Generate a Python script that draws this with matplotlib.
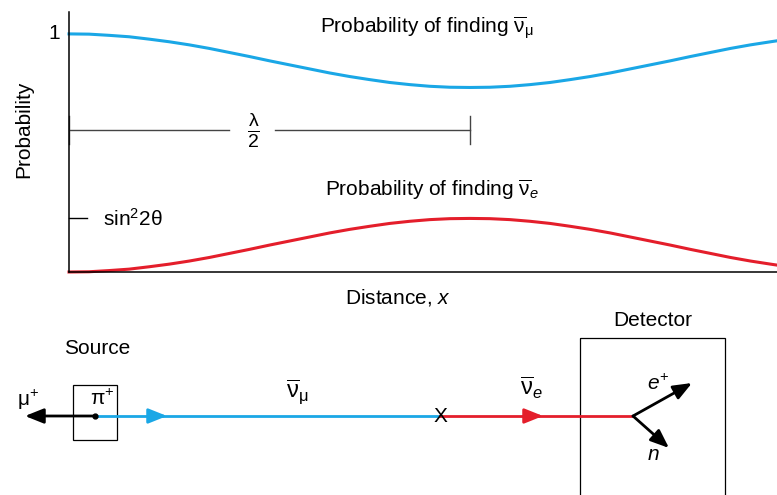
import matplotlib.pyplot as plt
import numpy as np

plt.rcParams['font.family'] = ['Liberation Sans', 'DejaVu Sans']
plt.rcParams['mathtext.fontset'] = 'custom'
plt.rcParams['mathtext.rm'] = 'Liberation Sans'
plt.rcParams['mathtext.it'] = 'Liberation Sans:italic'
plt.rcParams['mathtext.sf'] = 'Liberation Sans'

# distance in units of lambda/2, probabilities
distance = [0, 0.05, 0.1, 0.15, 0.2, 0.25, 0.3, 0.35, 0.4, 0.45, 0.5, 0.55, 0.6,
            0.65, 0.7, 0.75, 0.8, 0.85, 0.9, 0.95, 1.0, 1.05, 1.1, 1.15, 1.2, 1.25,
            1.3, 1.35, 1.4, 1.45, 1.5, 1.55, 1.6, 1.65, 1.7, 1.75, 1.77]
p_e = [0.0, 0.001, 0.006, 0.012, 0.022, 0.033, 0.046, 0.061, 0.078, 0.095, 0.113,
       0.130, 0.147, 0.164, 0.179, 0.192, 0.204, 0.213, 0.220, 0.224, 0.225, 0.224,
       0.220, 0.213, 0.204, 0.192, 0.179, 0.164, 0.147, 0.130, 0.113, 0.095, 0.078,
       0.061, 0.046, 0.033, 0.028]
p_mu = [1.0, 0.999, 0.994, 0.988, 0.978, 0.967, 0.954, 0.939, 0.922, 0.905, 0.887,
        0.870, 0.853, 0.836, 0.821, 0.808, 0.796, 0.787, 0.780, 0.776, 0.775, 0.776,
        0.780, 0.787, 0.796, 0.808, 0.821, 0.836, 0.853, 0.870, 0.887, 0.905, 0.922,
        0.939, 0.954, 0.967, 0.972]
sin2_2theta = 0.225
half_lambda = 1.0

blue = '#1aa7e6'
red = '#e41e2b'
grey = '#444444'
fs = 15
nubar_mu = r'$\overline{\mathrm{\nu}}_{\mathrm{\mu}}$'
nubar_e = r'$\overline{\mathrm{\nu}}_{e}$'

fig = plt.figure(figsize=(7.77, 4.95), dpi=100)

# ---- lower part: the beam sketch, in pixel units ----
dg = fig.add_axes([0, 0, 1, 1])
dg.set_xlim(0, 777)
dg.set_ylim(495, 0)
dg.axis('off')

beam_y = 416
src_box = (73, 385, 44, 55)      # x, y, w, h
det_box = (580, 338, 145, 170)
pion_x = 95
decay_x = 440
vertex_x = 633

dg.add_patch(plt.Rectangle(src_box[:2], src_box[2], src_box[3], fill=False, lw=0.9, ec='black'))
dg.add_patch(plt.Rectangle(det_box[:2], det_box[2], det_box[3], fill=False, lw=0.9, ec='black',
                           clip_on=False))
dg.text(97, 348, 'Source', ha='center', va='center', fontsize=fs)
dg.text(653, 320, 'Detector', ha='center', va='center', fontsize=fs)

dg.plot([pion_x, decay_x], [beam_y, beam_y], color=blue, lw=2)
dg.plot([decay_x, vertex_x], [beam_y, beam_y], color=red, lw=2)
arr = dict(arrowstyle='-|>,head_length=0.75,head_width=0.3', mutation_scale=15,
           shrinkA=0, shrinkB=0)
dg.annotate('', xy=(167, beam_y), xytext=(150, beam_y), arrowprops=dict(arr, color=blue, lw=2))
dg.annotate('', xy=(543, beam_y), xytext=(526, beam_y), arrowprops=dict(arr, color=red, lw=2))
dg.annotate('', xy=(25, beam_y), xytext=(pion_x, beam_y), arrowprops=dict(arr, color='black', lw=2))
dg.plot([pion_x], [beam_y], 'o', color='black', ms=3.5)
dg.annotate('', xy=(692, 383), xytext=(vertex_x, beam_y), arrowprops=dict(arr, color='black', lw=2))
dg.annotate('', xy=(669, 448), xytext=(vertex_x, beam_y), arrowprops=dict(arr, color='black', lw=2))

dg.text(decay_x, beam_y + 1, 'X', ha='center', va='center', fontsize=fs)
dg.text(28, 400, r'$\mathrm{\mu}^{+}$', ha='center', va='center', fontsize=fs)
dg.text(102, 399, r'$\mathrm{\pi}^{+}$', ha='center', va='center', fontsize=fs)
dg.text(297, 392, nubar_mu, ha='center', va='center', fontsize=17)
dg.text(531, 388, nubar_e, ha='center', va='center', fontsize=17)
dg.text(658, 384, r'$e^{+}$', ha='center', va='center', fontsize=fs)
dg.text(653, 455, r'$n$', ha='center', va='center', fontsize=fs)

# ---- upper part: oscillation probabilities ----
ax = fig.add_axes([69 / 777, 223 / 495, 708 / 777, 260 / 495])
ax.patch.set_alpha(0)
ax.plot(distance, p_mu, color=blue, lw=2.2, clip_on=False)
ax.plot(distance, p_e, color=red, lw=2.2, clip_on=False)
ax.set_xlim(0, 1.766)
ax.set_ylim(0, 1.092)
for s in ['top', 'right']:
    ax.spines[s].set_visible(False)
for s in ['left', 'bottom']:
    ax.spines[s].set_linewidth(1.1)
ax.set_xticks([])
ax.set_yticks([])

ax.text(-0.022, 1.0, '1', ha='right', va='center', fontsize=fs)
ax.plot([0, 0.045], [sin2_2theta, sin2_2theta], color='black', lw=1, clip_on=False)
ax.text(0.085, sin2_2theta, r'sin$^{2}$2$\mathrm{\theta}$', ha='left', va='center', fontsize=fs)

# lambda/2 bracket
yb = 0.597
ax.plot([0, 0.40], [yb, yb], color=grey, lw=1)
ax.plot([0.514, half_lambda], [yb, yb], color=grey, lw=1)
ax.plot([0, 0], [yb - 0.06, yb + 0.06], color=grey, lw=1, clip_on=False)
ax.plot([half_lambda, half_lambda], [yb - 0.06, yb + 0.06], color=grey, lw=1)
ax.text(0.459, yb, r'$\frac{\mathrm{\lambda}}{2}$', ha='center', va='center', fontsize=20)

ax.text(0.626, 1.025, 'Probability of finding ' + nubar_mu,
        ha='left', va='center', fontsize=fs)
ax.text(0.638, 0.345, 'Probability of finding ' + nubar_e,
        ha='left', va='center', fontsize=fs)
ax.text(-0.112, 0.60, 'Probability', rotation=90, ha='center', va='center', fontsize=fs)
ax.text(0.82, -0.105, r'Distance, $x$', ha='center', va='center', fontsize=fs)

fig.savefig('out.png', dpi=100)
